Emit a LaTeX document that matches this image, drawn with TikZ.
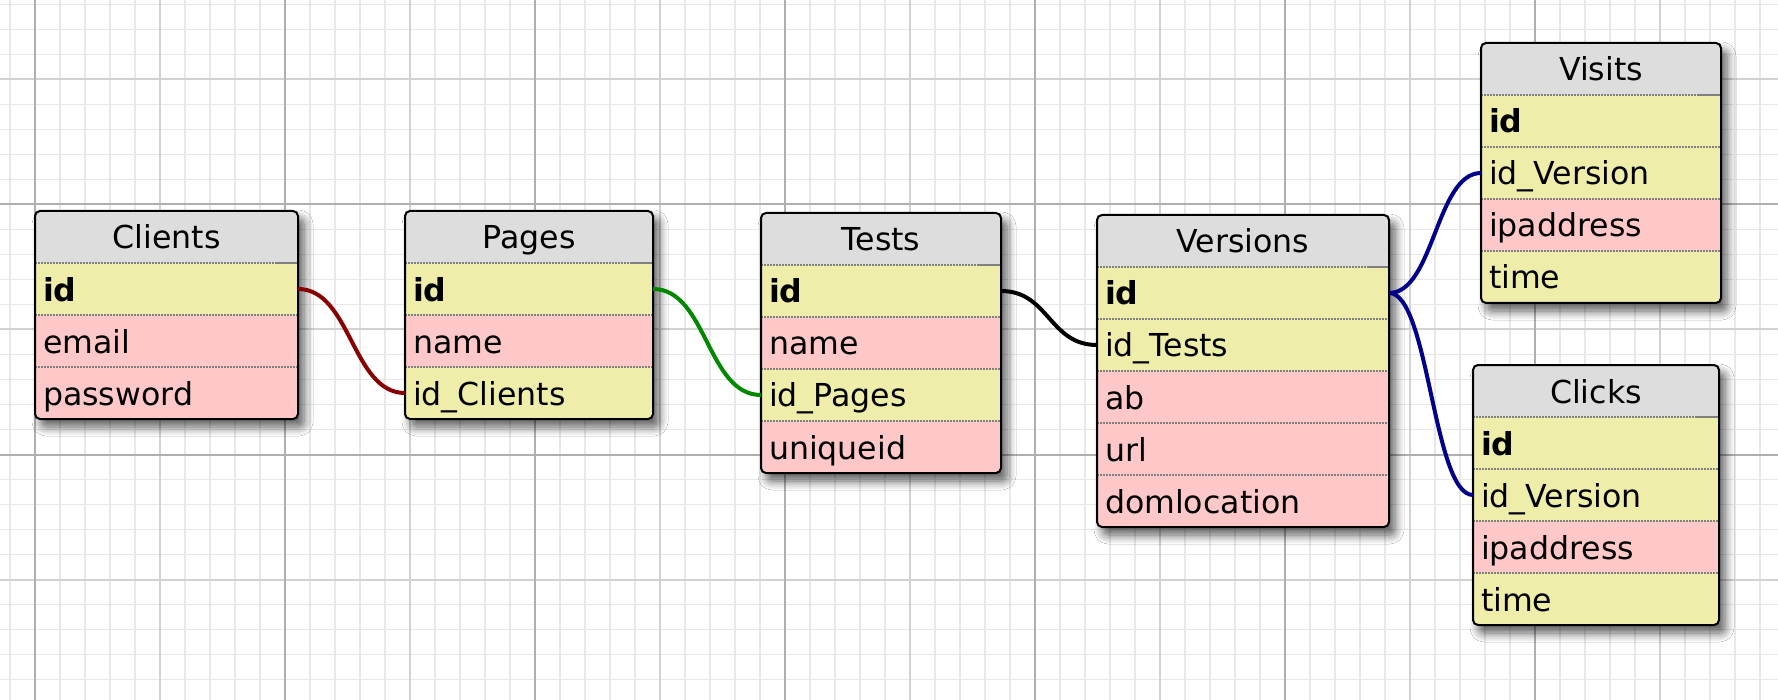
\documentclass[tikz,border=0pt]{standalone}
\usepackage{fontspec}
\setmainfont{DejaVu Sans}
\usetikzlibrary{shadows.blur}

\definecolor{hdr}{RGB}{221,221,221}
\definecolor{numcol}{RGB}{238,238,170}
\definecolor{strcol}{RGB}{255,200,200}
\definecolor{relred}{RGB}{136,0,0}
\definecolor{relgreen}{RGB}{0,136,0}
\definecolor{relblue}{RGB}{0,0,136}
\definecolor{gridminor}{RGB}{232,232,232}
\definecolor{gridmid}{RGB}{210,210,210}
\definecolor{gridmajor}{RGB}{175,175,175}

\tikzset{
    tablebase/.style={fill=white, draw=none, inner sep=0pt, outer sep=0pt, rounded corners=2.5pt,
        blur shadow={shadow xshift=3pt, shadow yshift=-4pt, shadow blur radius=4.5pt, shadow blur steps=8, shadow opacity=65}},
    fieldrow/.style={inner xsep=4pt, inner ysep=0pt, outer sep=0pt, text height=19pt, text depth=7pt,
        font=\fontsize{15.8}{19}\selectfont},
    sepline/.style={draw=gray, line width=0.75pt, dash pattern=on 0.75pt off 0.75pt},
    septail/.style={draw=gray, line width=0.75pt},
    tableframe/.style={draw=black, line width=1pt, rounded corners=2.5pt},
    rel/.style={line width=2pt}
}

% #1 name, #2 title, #3 left, #4 top, #5 right, #6 number of fields, #7 fields
\newcommand\dbtable[7]{%
    \pgfmathsetmacro\tabw{(#5-#3)/2}%
    \pgfmathsetmacro\tabh{26*(#6+1)}%
    \pgfmathsetmacro\tabtw{\tabw-8}%
    \node[tablebase, minimum width=\tabw pt, minimum height=\tabh pt, anchor=north west] (#1) at (#3,#4) {};
    \begin{scope}
        \clip[rounded corners=2.5pt] (#1.north west) rectangle (#1.south east);
        \node[fieldrow, fill=hdr, align=center, text width=\tabtw pt, anchor=north west] (#1-title) at (#1.north west) {#2};
        \foreach \f/\c/\n [count=\i] in {#7} {
            \node[fieldrow, fill=\c, align=left, text width=\tabtw pt, anchor=north west] (#1-\n) at (#3,{#4+52*\i}) {\f};
            \draw[sepline] (#1-\n.north west) -- (#1-\n.north east);
        }
        \draw[septail] ([xshift=-11pt]#1-title.south east) -- (#1-title.south east);
    \end{scope}
    \draw[tableframe] (#1.north west) rectangle (#1.south east);
}

\begin{document}
\begin{tikzpicture}[x=0.5pt, y=-0.5pt]
    \useasboundingbox (0,0) rectangle (1778,700);
    \fill[white] (0,0) rectangle (1778,700);

    % grid
    \foreach \x in {10,35,...,1778} \draw[gridminor, line width=0.75pt] (\x,0) -- (\x,700);
    \foreach \y in {4.5,29.5,...,700} \draw[gridminor, line width=0.75pt] (0,\y) -- (1778,\y);
    \foreach \x in {160,410,...,1778} \draw[gridmid, line width=1pt] (\x,0) -- (\x,700);
    \foreach \y in {79.5,329.5,579.5} \draw[gridmid, line width=1pt] (0,\y) -- (1778,\y);
    \foreach \x in {35,285,...,1778} \draw[gridmajor, line width=1pt] (\x,0) -- (\x,700);
    \foreach \y in {204.5,454.5} \draw[gridmajor, line width=1pt] (0,\y) -- (1778,\y);

    \dbtable{clients}{Clients}{35}{211}{298}{3}{\textbf{id}/numcol/id, email/strcol/email, password/strcol/password}
    \dbtable{pages}{Pages}{405}{211}{653}{3}{\textbf{id}/numcol/id, name/strcol/name, id\_Clients/numcol/idClients}
    \dbtable{tests}{Tests}{761}{213}{1001}{4}{\textbf{id}/numcol/id, name/strcol/name, id\_Pages/numcol/idPages, uniqueid/strcol/uniqueid}
    \dbtable{versions}{Versions}{1097}{215}{1389}{5}{\textbf{id}/numcol/id, id\_Tests/numcol/idTests, ab/strcol/ab, url/strcol/url, domlocation/strcol/domlocation}
    \dbtable{visits}{Visits}{1481}{43}{1721}{4}{\textbf{id}/numcol/id, id\_Version/numcol/idVersion, ipaddress/strcol/ipaddress, time/numcol/time}
    \dbtable{clicks}{Clicks}{1473}{365}{1719}{4}{\textbf{id}/numcol/id, id\_Version/numcol/idVersion, ipaddress/strcol/ipaddress, time/numcol/time}

    % relations
    \draw[rel, relred] (clients-id.east) .. controls +(53,0) and +(-53,0) .. (pages-idClients.west);
    \draw[rel, relgreen] (pages-id.east) .. controls +(54,0) and +(-54,0) .. (tests-idPages.west);
    \draw[rel, black] (tests-id.east) .. controls +(48,0) and +(-48,0) .. (versions-idTests.west);
    \draw[rel, relblue] (versions-id.east) .. controls +(45,0) and +(-45,0) .. (visits-idVersion.west);
    \draw[rel, relblue] (versions-id.east) .. controls +(40,0) and +(-40,0) .. (clicks-idVersion.west);
\end{tikzpicture}
\end{document}
